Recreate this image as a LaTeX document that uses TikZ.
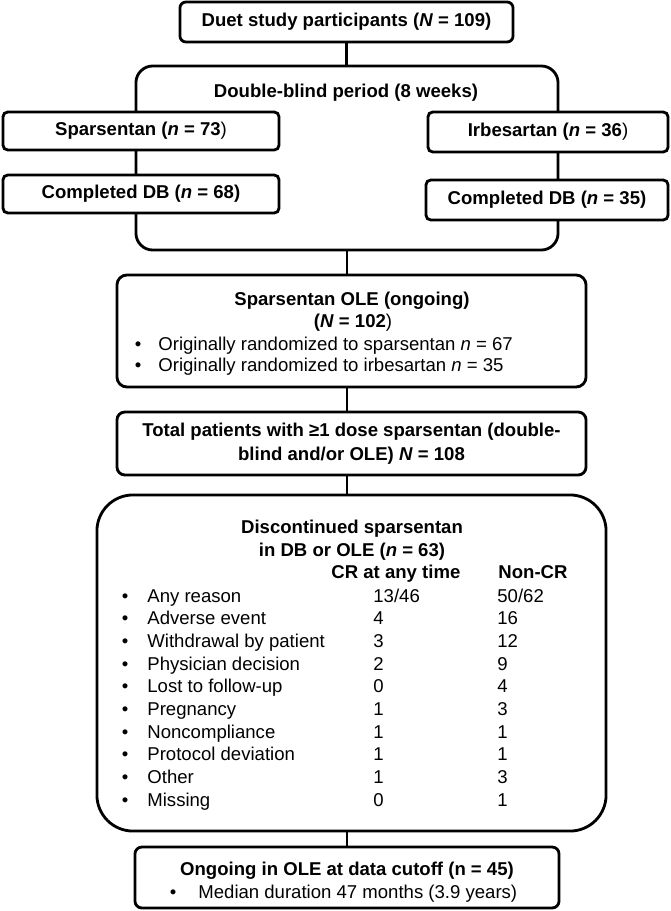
\documentclass[tikz,border=0pt]{standalone}
\usepackage{fontspec}
\setmainfont{Liberation Sans}
\usetikzlibrary{positioning}

\begin{document}
\begin{tikzpicture}[x=0.025cm, y=-0.025cm, line width=2pt,
  font=\fontsize{13.2}{17}\selectfont,
  box/.style={draw, fill=white, inner sep=0pt, align=center, font=\fontsize{13.2}{17}\selectfont\bfseries},
  txt/.style={inner sep=0pt, anchor=base west},
  head/.style={inner sep=0pt, anchor=base, font=\fontsize{13.2}{17}\selectfont\bfseries},
  dot/.style={inner sep=0pt, anchor=base}]
\useasboundingbox (0,0) rectangle (670,911);

% study and double-blind period
\node[box, rounded corners=0.15cm, minimum width=8.325cm, minimum height=1cm] (top) at (346.5,22) {Duet study participants (\textit{N} = 109)};
\node[box, rounded corners=0.42cm, minimum width=10.55cm, minimum height=4.6cm] (db) at (347,158) {};
\node[head] (dbt) at (346,98) {Double-blind period (8 weeks)};
\node[box, rounded corners=0.12cm, minimum width=6.9cm, minimum height=0.95cm] (spar) at (141,131) {Sparsentan (\textit{n} = 73\textnormal{)}};
\node[box, rounded corners=0.12cm, minimum width=6.9cm, minimum height=0.95cm] (comp1) at (141,194) {Completed DB (\textit{n} = 68)};
\node[box, rounded corners=0.12cm, minimum width=6cm, minimum height=1cm] (irb) at (548,132) {Irbesartan (\textit{n} = 36\textnormal{)}};
\node[box, rounded corners=0.12cm, minimum width=6.05cm, minimum height=1cm] (comp2) at (547,200) {Completed DB (\textit{n} = 35)};

% open-label extension
\node[box, rounded corners=0.25cm, minimum width=11.725cm, minimum height=2.8cm] (ole) at (351.5,331) {};
\node[head] (olet) at (352,306) {Sparsentan OLE (ongoing)};
\node[head] (olen) at (353,327) {(\textit{N} = 102\textnormal{)}};
\node[dot] (ob1) at (138,350) {•};
\node[txt] (ol1) at (157,350) {Originally randomized to sparsentan \textit{n} = 67};
\node[dot] (ob2) at (138,371) {•};
\node[txt] (ol2) at (157,371) {Originally randomized to irbesartan \textit{n} = 35};

\node[box, rounded corners=0.2cm, minimum width=11.725cm, minimum height=1.575cm] (total) at (351.5,443.5) {Total patients with ≥1 dose sparsentan (double-\\blind and/or OLE) \textit{N} = 108};

% discontinuations
\node[box, rounded corners=0.9cm, minimum width=12.725cm, minimum height=8.4cm] (disc) at (351.5,663) {};
\node[head] (dt1) at (352,533) {Discontinued sparsentan};
\node[head] (dt2) at (352,556) {in DB or OLE (\textit{n} = 63)};
\node[head, anchor=base west] (hcr) at (330,578) {CR at any time};
\node[head, anchor=base west] (hncr) at (497,578) {Non-CR};
\foreach \lab/\cra/\ncr [count=\i from 0] in {Any reason/{13/46}/{50/62}, Adverse event/4/16,
  Withdrawal by patient/3/12, Physician decision/2/9, Lost to follow-up/0/4, Pregnancy/1/3,
  Noncompliance/1/1, Protocol deviation/1/1, Other/1/3, Missing/0/1}{
  \pgfmathsetmacro\yb{602+22.7*\i}
  \node[dot] (b\i) at (125,\yb) {•};
  \node[txt] (r\i) at (146,\yb) {\lab};
  \node[txt] (c\i) at (372,\yb) {\cra};
  \node[txt] (n\i) at (496,\yb) {\ncr};
}

\node[box, rounded corners=0.175cm, minimum width=10.6cm, minimum height=1.525cm] (ongo) at (347,877.5) {};
\node[head] (ot) at (347,875) {Ongoing in OLE at data cutoff (n = 45)};
\node[dot] (gb) at (173,898) {•};
\node[txt] (gl) at (197,898) {Median duration 47 months (3.9 years)};

% spine
\draw (top.south) -- (top.south |- db.north);
\draw (db.south) -- (db.south |- ole.north);
\draw (ole.south -| db.south) -- (db.south |- total.north);
\draw (total.south -| db.south) -- (db.south |- disc.north);
\draw (disc.south -| db.south) -- (db.south |- ongo.north);
\end{tikzpicture}
\end{document}
